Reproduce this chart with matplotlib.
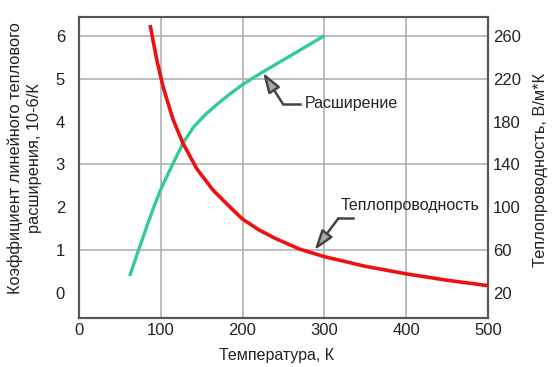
import matplotlib
matplotlib.use("Agg")
import matplotlib.pyplot as plt

plt.rcParams['font.family'] = ['Liberation Sans', 'DejaVu Sans']

# Коэффициент линейного теплового расширения (левая ось)
exp_temp = [62, 75, 90, 100, 111, 127, 140, 155, 170, 185, 200, 225, 260, 300]
exp_coef = [0.4, 1.12, 1.93, 2.42, 2.86, 3.49, 3.87, 4.17, 4.42, 4.65, 4.86, 5.16, 5.55, 6.0]

# Теплопроводность (правая ось)
cond_temp = [87, 95, 103, 115, 127, 144, 164, 185, 200, 220, 240, 270, 300, 350, 400, 450, 500]
cond_val = [270, 238, 212, 182, 160, 136, 116, 100, 89, 79, 71, 61, 54, 45, 38, 32, 27]

x_ticks = [0, 100, 200, 300, 400, 500]
left_ticks = [0, 1, 2, 3, 4, 5, 6]
right_ticks = [20, 60, 100, 140, 180, 220, 260]
h_grid = [1, 3, 5, 6]

green = '#33cc99'
red = '#ee1111'
spine_col = '#555555'
grid_col = '#b0b0b0'
text_col = '#222222'

fig = plt.figure(figsize=(5.52, 3.67), dpi=100)
ax = fig.add_axes([0.143, 0.1335, 0.741, 0.8205])
ax2 = ax.twinx()

ylo, yhi = -0.58, 6.44
ax.set_xlim(0, 500)
ax.set_ylim(ylo, yhi)
ax2.set_ylim(40 * ylo + 20, 40 * yhi + 20)

for x in x_ticks[1:-1]:
    ax.axvline(x, color=grid_col, lw=1.2, zorder=0)
for y in h_grid:
    ax.axhline(y, color=grid_col, lw=1.2, zorder=0)

ax.plot(exp_temp, exp_coef, color=green, lw=2.4, solid_capstyle='butt', zorder=3)
ax2.plot(cond_temp, cond_val, color=red, lw=2.6, solid_capstyle='butt', zorder=3)

ax.set_xticks(x_ticks)
ax.set_yticks(left_ticks)
ax2.set_yticks(right_ticks)
ax.tick_params(axis='x', length=0, pad=3.5, labelsize=12, labelcolor=text_col)
ax.tick_params(axis='y', length=0, pad=10, labelsize=12, labelcolor=text_col)
ax2.tick_params(axis='y', length=0, pad=3.5, labelsize=12, labelcolor=text_col)

for a in (ax, ax2):
    for s in a.spines.values():
        s.set_color(spine_col)
        s.set_linewidth(1.5)

ax.set_xlabel("Температура, К", fontsize=11.5, color=text_col)
ax.xaxis.set_label_coords(0.484, -0.1)
ax.set_ylabel("Коэффициент линейного теплового\nрасширения, 10-6/К",
              fontsize=11.8, color=text_col, linespacing=1.35)
ax.yaxis.set_label_coords(-0.09, 0.53)
ax2.set_ylabel("Теплопроводность, В/м*К", fontsize=11.8, color=text_col)
ax2.yaxis.set_label_coords(1.11, 0.49)

arrow = dict(arrowstyle='-|>,head_length=1.2,head_width=0.4', color='#444444',
             fc='#aaaaaa', lw=1.8, shrinkA=0, shrinkB=0, mutation_scale=10)

# Расширение
ax.plot([249, 270], [4.42, 4.42], color='#444444', lw=1.8)
ax.annotate("", xy=(225, 5.14), xytext=(249, 4.42), arrowprops=arrow)
ax.text(276, 4.42, "Расширение", fontsize=11.5, color=text_col, va='center', ha='left')

# Теплопроводность
ax.plot([317, 335], [1.74, 1.74], color='#444444', lw=1.8)
ax.annotate("", xy=(288, 1.0), xytext=(317, 1.74), arrowprops=arrow)
ax.text(405, 2.05, "Теплопроводность", fontsize=11.5, color=text_col, va='center', ha='center')

fig.savefig("out.png", dpi=100)
